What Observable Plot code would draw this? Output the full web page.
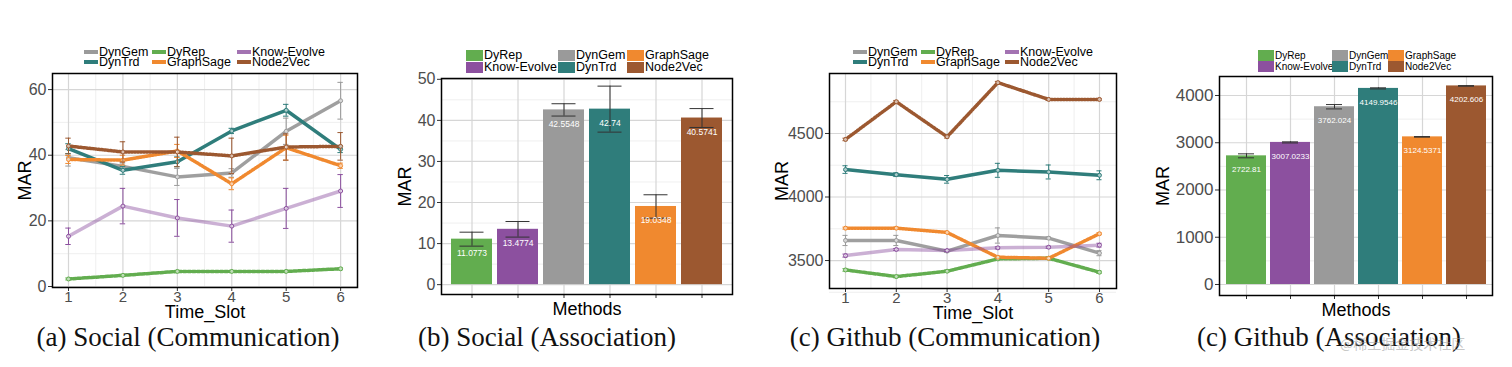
<!DOCTYPE html>
<html><head><meta charset="utf-8">
<script src="https://cdn.jsdelivr.net/npm/d3@7"></script>
<script src="https://cdn.jsdelivr.net/npm/@observablehq/plot@0.6"></script>
<style>
body{margin:0;background:#fff;}
#root{position:relative;width:1512px;height:367px;overflow:hidden;font-family:"Liberation Sans",Arial,sans-serif;}
.panel{position:absolute;top:68px;}
.leg{position:absolute;display:flex;align-items:center;white-space:nowrap;color:#000;line-height:1;}
.cap{position:absolute;top:322px;font-family:"Liberation Serif","Times New Roman",serif;font-size:27px;transform:translateX(-50%);white-space:nowrap;color:#111;}
.wm{position:absolute;left:1340px;top:333px;font-family:"Noto Sans CJK SC",sans-serif;font-size:14px;color:rgba(150,150,150,0.55);white-space:nowrap;}
</style></head><body><div id="root"></div>
<script>
// ---------- shared ----------
const timeSlots = [1, 2, 3, 4, 5, 6];
const lineMethods = ["DynGem", "DynTrd", "DyRep", "GraphSage", "Know-Evolve", "Node2Vec"];
const barMethods = ["DyRep", "Know-Evolve", "DynGem", "DynTrd", "GraphSage", "Node2Vec"];
const methodColors = ["#62ad4f", "#8c509f", "#9a9a9a", "#2f7d7b", "#f0892f", "#9c5830"];
const captions = ["(a) Social (Communication)", "(b) Social (Association)", "(c) Github (Communication)", "(c) Github (Association)"];

// ---------- (a) Social (Communication) ----------
const scDynGem = [39.2, 36.6, 33.4, 34.6, 47.3, 56.6];
const scDynGemErr = [2.5, 1.0, 2.6, 1.3, 4.0, 5.6];
const scDynTrd = [42.0, 35.4, 38.0, 47.4, 53.7, 41.8];
const scDynTrdErr = [1.5, 1.2, 1.5, 0.8, 1.8, 1.0];
const scDyRep = [2.3, 3.4, 4.6, 4.6, 4.6, 5.4];
const scDyRepErr = [0.3, 0.3, 0.3, 0.3, 0.3, 0.3];
const scGraphSage = [38.7, 38.5, 41.3, 31.3, 42.3, 36.8];
const scGraphSageErr = [1.2, 1.5, 2.0, 1.8, 3.8, 0.8];
const scKnowEvolve = [15.3, 24.5, 20.9, 18.4, 23.8, 29.1];
const scKnowEvolveErr = [2.5, 5.4, 5.6, 4.9, 6.1, 5.0];
const scNode2Vec = [42.8, 41.0, 41.0, 39.8, 42.5, 42.7];
const scNode2VecErr = [2.4, 3.1, 4.5, 5.4, 4.0, 4.2];
const scYTicks = [0, 20, 40, 60];
const scYMinor = [10, 30, 50];

// ---------- (b) Social (Association) ----------
const saMean = [11.0773, 13.4774, 42.5548, 42.74, 19.0348, 40.5741];
const saErr = [1.7, 1.9, 1.5, 5.6, 2.85, 2.3];
const saYTicks = [0, 10, 20, 30, 40, 50];
const saYMinor = [5, 15, 25, 35, 45];

// ---------- (c) Github (Communication) ----------
const gcDynGem = [3658, 3658, 3574, 3697, 3676, 3558];
const gcDynGemErr = [40, 40, 10, 60, 10, 20];
const gcDynTrd = [4216, 4176, 4139, 4210, 4197, 4171];
const gcDynTrdErr = [30, 15, 30, 55, 55, 35];
const gcDyRep = [3426, 3374, 3416, 3513, 3518, 3408];
const gcDyRepErr = [10, 10, 10, 10, 10, 10];
const gcGraphSage = [3755, 3755, 3721, 3526, 3518, 3711];
const gcGraphSageErr = [8, 8, 8, 8, 8, 8];
const gcKnowEvolve = [3539, 3587, 3579, 3600, 3605, 3621];
const gcKnowEvolveErr = [12, 8, 8, 8, 8, 15];
const gcNode2Vec = [4453, 4750, 4474, 4900, 4768, 4768];
const gcNode2VecErr = [10, 10, 10, 10, 8, 8];
const gcYTicks = [3500, 4000, 4500];
const gcYMinor = [3250, 3750, 4250, 4750];

// ---------- (d) Github (Association) ----------
const gaMean = [2722.81, 3007.0233, 3762.024, 4149.9546, 3124.5371, 4202.606];
const gaErr = [42, 12, 46, 12, 6, 6];
const gaYTicks = [0, 1000, 2000, 3000, 4000];
const gaYMinor = [500, 1500, 2500, 3500];

const xMinor = [1.5, 2.5, 3.5, 4.5, 5.5];

const lineDash = {"DynGem": null, "DynTrd": null, "DyRep": "3,1.6", "GraphSage": "1.6,1.4", "Know-Evolve": null, "Node2Vec": "1.6,1.4"};
const lineOpacity = {"DynGem": 0.95, "DynTrd": 1, "DyRep": 1, "GraphSage": 1, "Know-Evolve": 0.45, "Node2Vec": 1};

const root = document.getElementById("root");
const colorScale = {domain: barMethods, range: methodColors};
const FONT = "'Liberation Sans', Arial, sans-serif";

function rowsOf(series) {
  const rows = [];
  series.forEach(([m, vals, errs]) => vals.forEach((v, i) => rows.push({method: m, t: timeSlots[i], v, e: errs[i]})));
  return rows;
}

function yAxes(yTicks, yLabelOffset, tickFont) {
  return [
    Plot.axisY(yTicks, {tickSize: 4, tickPadding: 2, fontSize: tickFont, fill: "#4d4d4d", stroke: "#333", label: null, tickFormat: d => String(d)}),
    Plot.axisY([], {label: "MAR", labelAnchor: "center", labelArrow: "none", labelOffset: yLabelOffset, fontSize: 18, fill: "#000"})
  ];
}

function linePanel(left, width, margins, yDomain, xDomain, yTicks, yMinor, yLabelOffset, series) {
  const rows = rowsOf(series);
  const marks = [
    Plot.ruleY(yMinor, {stroke: "#ebebeb", strokeWidth: 0.8}),
    Plot.ruleX(xMinor, {stroke: "#ebebeb", strokeWidth: 0.8}),
    Plot.ruleY(yTicks, {stroke: "#d6d6d6", strokeWidth: 1.2}),
    Plot.ruleX(timeSlots, {stroke: "#d6d6d6", strokeWidth: 1.2}),
  ];
  for (const m of lineMethods) {
    const d = rows.filter(r => r.method === m);
    marks.push(Plot.line(d, {x: "t", y: "v", stroke: "method", strokeWidth: 3.5, strokeDasharray: lineDash[m], strokeOpacity: lineOpacity[m]}));
  }
  for (const m of lineMethods) {
    const d = rows.filter(r => r.method === m);
    marks.push(Plot.ruleX(d, {x: "t", y1: r => r.v - r.e, y2: r => r.v + r.e, stroke: "method", strokeWidth: 1}));
    marks.push(Plot.ruleY(d, {x1: r => r.t - 0.05, x2: r => r.t + 0.05, y: r => r.v + r.e, stroke: "method", strokeWidth: 1}));
    marks.push(Plot.ruleY(d, {x1: r => r.t - 0.05, x2: r => r.t + 0.05, y: r => r.v - r.e, stroke: "method", strokeWidth: 1}));
    marks.push(Plot.dot(d, {x: "t", y: "v", stroke: "method", r: 2, strokeWidth: 1, fill: "white", fillOpacity: 0.6}));
  }
  marks.push(...yAxes(yTicks, yLabelOffset, 16));
  marks.push(Plot.axisX(timeSlots, {tickSize: 4, tickPadding: 0, fontSize: 15, fill: "#4d4d4d", stroke: "#333", label: null, tickFormat: d => String(d)}));
  marks.push(Plot.axisX([], {label: "Time_Slot", labelAnchor: "center", labelArrow: "none", labelOffset: 30, fontSize: 18, fill: "#000"}));
  marks.push(Plot.frame({stroke: "#000", strokeWidth: 1.5}));
  const svg = Plot.plot({
    width, height: 252,
    marginTop: margins[0], marginRight: margins[1], marginBottom: margins[2], marginLeft: margins[3],
    x: {domain: xDomain},
    y: {domain: yDomain},
    color: colorScale,
    style: {fontFamily: FONT, background: "transparent", overflow: "visible"},
    marks
  });
  const div = document.createElement("div");
  div.className = "panel"; div.style.left = left + "px";
  div.appendChild(svg); root.appendChild(div);
}

function barPanel(left, width, margins, yDomain, yTicks, yMinor, yLabelOffset, tickFont, means, errs, capInset, labelSize) {
  const rows = barMethods.map((m, i) => ({method: m, v: means[i], e: errs[i]}));
  const marks = [
    Plot.ruleY(yMinor, {stroke: "#ebebeb", strokeWidth: 0.8}),
    Plot.ruleY(yTicks, {stroke: "#d6d6d6", strokeWidth: 1.2}),
    Plot.ruleX(barMethods, {x: d => d, stroke: "#d6d6d6", strokeWidth: 1.2}),
    Plot.barY(rows, {x: "method", y: "v", fill: "method"}),
    Plot.ruleX(rows, {x: "method", y1: r => r.v - r.e, y2: r => r.v + r.e, stroke: "#333", strokeWidth: 1}),
    Plot.tickY(rows, {x: "method", y: r => r.v + r.e, stroke: "#333", strokeWidth: 1, insetLeft: capInset, insetRight: capInset}),
    Plot.tickY(rows, {x: "method", y: r => r.v - r.e, stroke: "#333", strokeWidth: 1, insetLeft: capInset, insetRight: capInset}),
    Plot.text(rows, {x: "method", y: "v", text: r => String(r.v), dy: 14, fill: "white", fontSize: labelSize}),
    ...yAxes(yTicks, yLabelOffset, tickFont),
    Plot.axisX(barMethods, {tickSize: 4, stroke: "#333", tickFormat: () => "", label: null}),
    Plot.axisX([], {label: "Methods", labelAnchor: "center", labelArrow: "none", labelOffset: 20, fontSize: 18, fill: "#000"}),
    Plot.frame({stroke: "#000", strokeWidth: 1.5})
  ];
  const svg = Plot.plot({
    width, height: 252,
    marginTop: margins[0], marginRight: margins[1], marginBottom: margins[2], marginLeft: margins[3],
    x: {domain: barMethods, paddingInner: 0.1, paddingOuter: 0.15},
    y: {domain: yDomain},
    color: colorScale,
    style: {fontFamily: FONT, background: "transparent", overflow: "visible"},
    marks
  });
  const div = document.createElement("div");
  div.className = "panel"; div.style.left = left + "px";
  div.appendChild(svg); root.appendChild(div);
}

function legend(order, cols, rowTops, rowH, font, kind, swW) {
  order.forEach((m, i) => {
    const c = Math.floor(i / 2), r = i % 2;
    const el = document.createElement("div");
    el.className = "leg";
    el.style.left = cols[c] + "px";
    el.style.top = rowTops[r] + "px";
    el.style.height = rowH + "px";
    el.style.fontSize = font + "px";
    const col = methodColors[barMethods.indexOf(m)];
    const sw = document.createElement("span");
    sw.style.display = "inline-block";
    sw.style.width = swW + "px";
    sw.style.background = col;
    if (kind === "box") {
      sw.style.height = rowH + "px";
    } else {
      sw.style.height = "4px";
      sw.style.opacity = m === "Know-Evolve" ? 0.8 : 1;
    }
    sw.style.marginRight = "1px";
    const tx = document.createElement("span");
    tx.textContent = m;
    el.appendChild(sw); el.appendChild(tx);
    root.appendChild(el);
  });
}

// panel a
linePanel(0, 370, [5, 13, 33, 52], [-0.3, 64.9], [0.706, 6.31], scYTicks, scYMinor, 34, [
  ["DynGem", scDynGem, scDynGemErr], ["DynTrd", scDynTrd, scDynTrdErr], ["DyRep", scDyRep, scDyRepErr],
  ["GraphSage", scGraphSage, scGraphSageErr], ["Know-Evolve", scKnowEvolve, scKnowEvolveErr], ["Node2Vec", scNode2Vec, scNode2VecErr]
]);
// panel b
barPanel(380, 370, [10, 18, 26, 61], [-2.4, 50.2], saYTicks, saYMinor, 43, 16, saMean, saErr, 8.5, 8.5);
// panel c
linePanel(760, 370, [5, 14, 32, 69], [3280, 4972], [0.685, 6.335], gcYTicks, gcYMinor, 54, [
  ["DynGem", gcDynGem, gcDynGemErr], ["DynTrd", gcDynTrd, gcDynTrdErr], ["DyRep", gcDyRep, gcDyRepErr],
  ["GraphSage", gcGraphSage, gcGraphSageErr], ["Know-Evolve", gcKnowEvolve, gcKnowEvolveErr], ["Node2Vec", gcNode2Vec, gcNode2VecErr]
]);
// panel d
barPanel(1130, 382, [8, 20, 25, 89], [-233, 4402], gaYTicks, gaYMinor, 63, 17, gaMean, gaErr, 12, 8);

// legends
legend(lineMethods, [84, 152, 237], [47.5, 57], 9.5, 12.5, "line", 14);
legend(barMethods, [466, 558, 627], [50, 61.5], 11, 12.5, "box", 17);
legend(lineMethods, [853, 921, 1005], [47.5, 57], 9.5, 12.5, "line", 14);
legend(barMethods, [1258, 1332, 1388], [50, 61], 11, 10, "box", 16);

// captions
[188, 547, 945, 1329].forEach((x, i) => {
  const c = document.createElement("div");
  c.className = "cap"; c.style.left = x + "px"; c.textContent = captions[i];
  root.appendChild(c);
});
const wm = document.createElement("div");
wm.className = "wm"; wm.textContent = "@稀土掘金技术社区";
root.appendChild(wm);
</script></body></html>
